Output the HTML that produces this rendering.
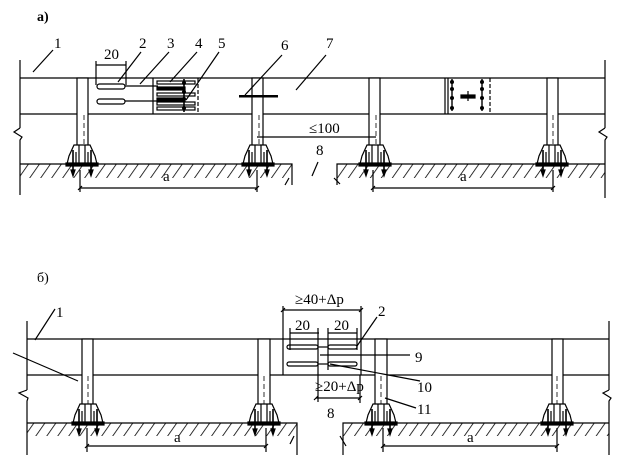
<!DOCTYPE html>
<html><head><meta charset="utf-8"><style>
html,body{margin:0;padding:0;background:#fff;}
svg{display:block;}
text{font-family:"Liberation Serif",serif;fill:#000;}
</style></head><body>
<svg width="622" height="468" viewBox="0 0 622 468" xmlns="http://www.w3.org/2000/svg">
<defs>
<pattern id="h" width="9" height="9" patternUnits="userSpaceOnUse" patternTransform="rotate(35)">
<line x1="0" y1="0" x2="0" y2="9" stroke="#000" stroke-width="1.6"/>
</pattern>
<g id="foot" stroke="#000" fill="#fff" stroke-width="1.2">
<polygon points="-15,0 15,0 13,-8 8,-19 -8,-19 -13,-8"/>
<line x1="-3" y1="-19" x2="-3" y2="0"/><line x1="3" y1="-19" x2="3" y2="0"/>
<line x1="-6" y1="-12" x2="-6" y2="0"/><line x1="6" y1="-12" x2="6" y2="0"/>
<rect x="-16" y="-1" width="32" height="3" fill="#000"/>
<line x1="-9" y1="-14" x2="-9" y2="11" stroke-width="1.6"/>
<line x1="9" y1="-14" x2="9" y2="11" stroke-width="1.6"/>
<path d="M-11,6 L-9,12 L-7,6Z M7,6 L9,12 L11,6Z" fill="#000"/>
</g>
</defs>
<g stroke="#000" fill="none" stroke-width="1.2">
<line x1="20" y1="60" x2="20" y2="128"/><path d="M20,128 L14,132 L22,137 L20,140 L20,195"/>
<line x1="605" y1="60" x2="605" y2="128"/><path d="M605,128 L599,132 L607,137 L605,140 L605,198"/>
<line x1="20" y1="78" x2="605" y2="78"/>
<line x1="20" y1="114" x2="605" y2="114"/>
<rect x="20" y="164" width="272" height="14" fill="url(#h)" stroke="none"/>
<rect x="337" y="164" width="268" height="14" fill="url(#h)" stroke="none"/>
<path d="M20,164 L292,164 L292,185"/><path d="M337,185 L337,164 L605,164"/>
<path d="M289,178 L285,185 M334,178 L340,184" />
<g fill="#fff">
<rect x="77" y="78" width="11" height="70"/><rect x="252" y="78" width="11" height="70"/>
<rect x="369" y="78" width="11" height="70"/><rect x="547" y="78" width="11" height="70"/>
</g>
<g stroke-dasharray="5,3" stroke-width="0.8">
<line x1="84" y1="115" x2="84" y2="148"/><line x1="259" y1="115" x2="259" y2="148"/>
<line x1="376" y1="115" x2="376" y2="148"/><line x1="553" y1="115" x2="553" y2="148"/>
</g>
<use href="#foot" x="82" y="164"/><use href="#foot" x="258" y="164"/>
<use href="#foot" x="375" y="164"/><use href="#foot" x="552" y="164"/>
<line x1="80" y1="188" x2="257" y2="188"/><line x1="80" y1="170" x2="80" y2="192"/><line x1="257" y1="170" x2="257" y2="192"/>
<line x1="373" y1="188" x2="553" y2="188"/><line x1="373" y1="170" x2="373" y2="192"/><line x1="553" y1="170" x2="553" y2="192"/>
<path d="M78,190 L82,186 M255,190 L259,186 M371,190 L375,186 M551,190 L555,186"/>
<line x1="153" y1="78" x2="153" y2="114"/>
<line x1="198" y1="78" x2="198" y2="114" stroke-dasharray="4,2"/>
<rect x="97" y="84" width="28" height="5" rx="2.5"/><line x1="125" y1="86" x2="158" y2="86"/>
<rect x="97" y="99" width="28" height="5" rx="2.5"/><line x1="125" y1="101" x2="158" y2="101"/>
<rect x="157" y="81" width="38" height="3"/><rect x="157" y="87" width="28" height="3" fill="#000"/>
<rect x="157" y="93" width="38" height="3"/><rect x="157" y="98" width="28" height="3" fill="#000"/>
<rect x="157" y="102" width="38" height="3"/><rect x="157" y="107" width="38" height="3"/>
<line x1="184" y1="79" x2="184" y2="112" stroke-width="1.6"/>
<g fill="#000" stroke="none"><circle cx="184" cy="83" r="2"/><circle cx="184" cy="92" r="2"/><circle cx="184" cy="99" r="2"/><circle cx="184" cy="108" r="2"/></g>
<rect x="239" y="95" width="39" height="2.5" fill="#000" stroke="none"/>
<line x1="96" y1="65" x2="126" y2="65"/><line x1="96" y1="61" x2="96" y2="85"/><line x1="126" y1="61" x2="126" y2="85"/>
<line x1="445" y1="78" x2="445" y2="114"/><line x1="448" y1="78" x2="448" y2="114"/>
<line x1="490" y1="78" x2="490" y2="114" stroke-dasharray="4,2"/>
<line x1="452" y1="79" x2="452" y2="111" stroke-width="1.4"/><line x1="482" y1="79" x2="482" y2="111" stroke-width="1.4"/>
<g fill="#000" stroke="none"><circle cx="452" cy="82" r="2"/><circle cx="452" cy="89" r="2"/><circle cx="452" cy="98" r="2"/><circle cx="452" cy="108" r="2"/>
<circle cx="482" cy="82" r="2"/><circle cx="482" cy="89" r="2"/><circle cx="482" cy="98" r="2"/><circle cx="482" cy="108" r="2"/></g>
<rect x="461" y="95" width="14" height="3" fill="#000"/><line x1="468" y1="91" x2="468" y2="101"/>
<line x1="257" y1="137" x2="376" y2="137"/>
<line x1="53" y1="50" x2="33" y2="72"/>
<line x1="141" y1="52" x2="118" y2="82"/>
<line x1="169" y1="52" x2="140" y2="84"/>
<line x1="197" y1="52" x2="170" y2="82"/>
<line x1="219" y1="52" x2="186" y2="100"/>
<line x1="282" y1="55" x2="245" y2="95"/>
<line x1="326" y1="55" x2="296" y2="90"/>
<line x1="318" y1="162" x2="312" y2="176"/>

<line x1="27" y1="321" x2="27" y2="390"/><path d="M27,390 L19,393 L28,398 L27,401 L27,455"/>
<line x1="609" y1="321" x2="609" y2="390"/><path d="M609,390 L603,393 L611,398 L609,401 L609,455"/>
<line x1="27" y1="339" x2="609" y2="339"/>
<line x1="27" y1="375" x2="609" y2="375"/>
<rect x="27" y="423" width="270" height="13" fill="url(#h)" stroke="none"/>
<rect x="343" y="423" width="266" height="13" fill="url(#h)" stroke="none"/>
<path d="M27,423 L297,423 L297,455"/><path d="M343,455 L343,423 L609,423"/>
<path d="M294,436 L290,444 M340,436 L346,446"/>
<g fill="#fff">
<rect x="82" y="339" width="11" height="70"/><rect x="258" y="339" width="12" height="70"/>
<rect x="375" y="339" width="12" height="70"/><rect x="552" y="339" width="11" height="70"/>
</g>
<g stroke-dasharray="5,3" stroke-width="0.8">
<line x1="88" y1="376" x2="88" y2="408"/><line x1="264" y1="376" x2="264" y2="408"/>
<line x1="381" y1="376" x2="381" y2="408"/><line x1="557" y1="376" x2="557" y2="408"/>
</g>
<use href="#foot" x="88" y="423"/><use href="#foot" x="264" y="423"/>
<use href="#foot" x="381" y="423"/><use href="#foot" x="557" y="423"/>
<line x1="87" y1="446" x2="266" y2="446"/><line x1="87" y1="428" x2="87" y2="452"/><line x1="266" y1="428" x2="266" y2="452"/>
<line x1="383" y1="446" x2="557" y2="446"/><line x1="383" y1="428" x2="383" y2="452"/><line x1="557" y1="428" x2="557" y2="452"/>
<path d="M85,448 L89,444 M264,448 L268,444 M381,448 L385,444 M555,448 L559,444"/>
<line x1="283" y1="306" x2="283" y2="375"/><line x1="361" y1="306" x2="361" y2="375"/>
<line x1="283" y1="310" x2="361" y2="310"/><path d="M281,312 L285,308 M359,312 L363,308"/>
<line x1="290" y1="328" x2="290" y2="350"/><line x1="357" y1="328" x2="357" y2="350"/>
<line x1="290" y1="333" x2="319" y2="333"/><line x1="328" y1="333" x2="357" y2="333"/>
<line x1="318" y1="328" x2="318" y2="402"/><line x1="328" y1="328" x2="328" y2="370"/>
<line x1="360" y1="375" x2="360" y2="403"/>
<line x1="316" y1="398" x2="360" y2="398"/><path d="M314,400 L318,396 M358,400 L362,396"/>
<rect x="287" y="345" width="31" height="4" rx="2"/><rect x="328" y="345" width="29" height="4" rx="2"/>
<rect x="287" y="362" width="31" height="4" rx="2"/><rect x="328" y="362" width="29" height="4" rx="2"/>
<line x1="318" y1="347" x2="328" y2="347"/><line x1="318" y1="364" x2="328" y2="364"/>
<line x1="55" y1="309" x2="35" y2="340"/>
<line x1="13" y1="353" x2="78" y2="381"/>
<line x1="377" y1="317" x2="357" y2="346"/>
<line x1="320" y1="355" x2="410" y2="355"/>
<line x1="330" y1="364" x2="420" y2="381"/>
<line x1="385" y1="398" x2="416" y2="408"/>
</g>
<g font-size="15">
<text x="37" y="21" font-weight="bold" font-size="14">а)</text>
<text x="54" y="48">1</text><text x="139" y="48">2</text><text x="167" y="48">3</text>
<text x="195" y="48">4</text><text x="218" y="48">5</text><text x="281" y="50">6</text>
<text x="326" y="48">7</text><text x="104" y="59">20</text>
<text x="309" y="133">≤100</text><text x="316" y="155">8</text>
<text x="163" y="181">a</text><text x="460" y="181">a</text>
<text x="37" y="282" font-size="14">б)</text>
<text x="56" y="317">1</text><text x="378" y="316">2</text><text x="415" y="362">9</text>
<text x="417" y="392">10</text><text x="417" y="414">11</text>
<text x="295" y="304">≥40+Δp</text>
<text x="295" y="330">20</text><text x="334" y="330">20</text>
<text x="315" y="391">≥20+Δp</text><text x="327" y="418">8</text>
<text x="174" y="442">a</text><text x="467" y="442">a</text>
</g>
</svg>
</body></html>
